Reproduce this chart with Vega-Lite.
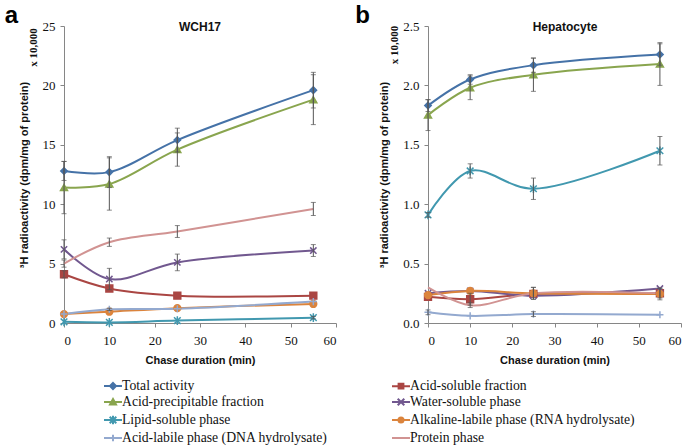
{
  "$schema": "https://vega.github.io/schema/vega-lite/v6.json",
  "background": "white",
  "padding": {"left": 4, "top": 4, "right": 5, "bottom": 5},
  "bounds": "flush",
  "spacing": 92,
  "config": {
    "font": "Liberation Serif",
    "view": {"stroke": null},
    "axis": {
      "grid": false,
      "domainColor": "#868686",
      "tickColor": "#868686",
      "tickSize": 4,
      "labelFont": "Liberation Serif",
      "labelFontSize": 13,
      "labelColor": "#111",
      "titleFont": "Liberation Sans",
      "titleFontWeight": "bold",
      "titleFontSize": 11,
      "titleColor": "#111"
    }
  },
  "datasets": {
    "d": [
      {"p": "a", "s": "Total activity", "t": 0, "v": 12.8, "e": 0.8},
      {"p": "a", "s": "Total activity", "t": 10, "v": 12.7, "e": 1.3},
      {"p": "a", "s": "Total activity", "t": 25, "v": 15.4, "e": 1.0},
      {"p": "a", "s": "Total activity", "t": 55, "v": 19.6, "e": 1.5},
      {"p": "a", "s": "Acid-soluble fraction", "t": 0, "v": 4.1, "e": 0.3},
      {"p": "a", "s": "Acid-soluble fraction", "t": 10, "v": 2.9, "e": 0},
      {"p": "a", "s": "Acid-soluble fraction", "t": 25, "v": 2.3, "e": 0},
      {"p": "a", "s": "Acid-soluble fraction", "t": 55, "v": 2.3, "e": 0},
      {"p": "a", "s": "Acid-precipitable fraction", "t": 0, "v": 11.4, "e": 2.2},
      {"p": "a", "s": "Acid-precipitable fraction", "t": 10, "v": 11.7, "e": 2.2},
      {"p": "a", "s": "Acid-precipitable fraction", "t": 25, "v": 14.6, "e": 1.4},
      {"p": "a", "s": "Acid-precipitable fraction", "t": 55, "v": 18.8, "e": 2.1},
      {"p": "a", "s": "Water-soluble phase", "t": 0, "v": 6.2, "e": 0.8},
      {"p": "a", "s": "Water-soluble phase", "t": 10, "v": 3.7, "e": 0.9},
      {"p": "a", "s": "Water-soluble phase", "t": 25, "v": 5.1, "e": 0.7},
      {"p": "a", "s": "Water-soluble phase", "t": 55, "v": 6.1, "e": 0.5},
      {"p": "a", "s": "Lipid-soluble phase", "t": 0, "v": 0.1, "e": 0},
      {"p": "a", "s": "Lipid-soluble phase", "t": 10, "v": 0.05, "e": 0},
      {"p": "a", "s": "Lipid-soluble phase", "t": 25, "v": 0.2, "e": 0},
      {"p": "a", "s": "Lipid-soluble phase", "t": 55, "v": 0.45, "e": 0.1},
      {"p": "a", "s": "Alkaline-labile phase (RNA hydrolysate)", "t": 0, "v": 0.75, "e": 0},
      {"p": "a", "s": "Alkaline-labile phase (RNA hydrolysate)", "t": 10, "v": 0.95, "e": 0},
      {"p": "a", "s": "Alkaline-labile phase (RNA hydrolysate)", "t": 25, "v": 1.25, "e": 0},
      {"p": "a", "s": "Alkaline-labile phase (RNA hydrolysate)", "t": 55, "v": 1.6, "e": 0},
      {"p": "a", "s": "Acid-labile phase (DNA hydrolysate)", "t": 0, "v": 0.75, "e": 0},
      {"p": "a", "s": "Acid-labile phase (DNA hydrolysate)", "t": 10, "v": 1.15, "e": 0.1},
      {"p": "a", "s": "Acid-labile phase (DNA hydrolysate)", "t": 25, "v": 1.2, "e": 0},
      {"p": "a", "s": "Acid-labile phase (DNA hydrolysate)", "t": 55, "v": 1.8, "e": 0},
      {"p": "a", "s": "Protein phase", "t": 0, "v": 5.0, "e": 0.3},
      {"p": "a", "s": "Protein phase", "t": 10, "v": 6.8, "e": 0.35},
      {"p": "a", "s": "Protein phase", "t": 25, "v": 7.7, "e": 0.5},
      {"p": "a", "s": "Protein phase", "t": 55, "v": 9.6, "e": 0.55},
      {"p": "b", "s": "Total activity", "t": 0, "v": 1.83, "e": 0.05},
      {"p": "b", "s": "Total activity", "t": 10, "v": 2.05, "e": 0.04},
      {"p": "b", "s": "Total activity", "t": 25, "v": 2.17, "e": 0.06},
      {"p": "b", "s": "Total activity", "t": 55, "v": 2.26, "e": 0.09},
      {"p": "b", "s": "Acid-soluble fraction", "t": 0, "v": 0.22, "e": 0},
      {"p": "b", "s": "Acid-soluble fraction", "t": 10, "v": 0.2, "e": 0.05},
      {"p": "b", "s": "Acid-soluble fraction", "t": 25, "v": 0.245, "e": 0},
      {"p": "b", "s": "Acid-soluble fraction", "t": 55, "v": 0.25, "e": 0.04},
      {"p": "b", "s": "Acid-precipitable fraction", "t": 0, "v": 1.75, "e": 0.13},
      {"p": "b", "s": "Acid-precipitable fraction", "t": 10, "v": 1.98, "e": 0.1},
      {"p": "b", "s": "Acid-precipitable fraction", "t": 25, "v": 2.09, "e": 0.14},
      {"p": "b", "s": "Acid-precipitable fraction", "t": 55, "v": 2.18, "e": 0.18},
      {"p": "b", "s": "Water-soluble phase", "t": 0, "v": 0.25, "e": 0},
      {"p": "b", "s": "Water-soluble phase", "t": 10, "v": 0.27, "e": 0},
      {"p": "b", "s": "Water-soluble phase", "t": 25, "v": 0.23, "e": 0},
      {"p": "b", "s": "Water-soluble phase", "t": 55, "v": 0.29, "e": 0},
      {"p": "b", "s": "Lipid-soluble phase", "t": 0, "v": 0.91, "e": 0.02},
      {"p": "b", "s": "Lipid-soluble phase", "t": 10, "v": 1.28, "e": 0.06},
      {"p": "b", "s": "Lipid-soluble phase", "t": 25, "v": 1.13, "e": 0.09},
      {"p": "b", "s": "Lipid-soluble phase", "t": 55, "v": 1.45, "e": 0.12},
      {"p": "b", "s": "Alkaline-labile phase (RNA hydrolysate)", "t": 0, "v": 0.235, "e": 0},
      {"p": "b", "s": "Alkaline-labile phase (RNA hydrolysate)", "t": 10, "v": 0.27, "e": 0},
      {"p": "b", "s": "Alkaline-labile phase (RNA hydrolysate)", "t": 25, "v": 0.25, "e": 0.05},
      {"p": "b", "s": "Alkaline-labile phase (RNA hydrolysate)", "t": 55, "v": 0.245, "e": 0.05},
      {"p": "b", "s": "Acid-labile phase (DNA hydrolysate)", "t": 0, "v": 0.09, "e": 0.02},
      {"p": "b", "s": "Acid-labile phase (DNA hydrolysate)", "t": 10, "v": 0.06, "e": 0},
      {"p": "b", "s": "Acid-labile phase (DNA hydrolysate)", "t": 25, "v": 0.075, "e": 0.02},
      {"p": "b", "s": "Acid-labile phase (DNA hydrolysate)", "t": 55, "v": 0.07, "e": 0},
      {"p": "b", "s": "Protein phase", "t": 0, "v": 0.3, "e": 0},
      {"p": "b", "s": "Protein phase", "t": 10, "v": 0.15, "e": 0.02},
      {"p": "b", "s": "Protein phase", "t": 25, "v": 0.25, "e": 0.05},
      {"p": "b", "s": "Protein phase", "t": 55, "v": 0.25, "e": 0}
    ]
  },
  "hconcat": [
    {
      "width": 272,
      "height": 297,
      "data": {"name": "d"},
      "transform": [{"filter": "datum.p == 'a'"}, {"calculate": "datum.s", "as": "m"}],
      "encoding": {
        "x": {"field": "t", "type": "quantitative", "scale": {"domain": [0, 60], "nice": false},
          "axis": {"title": "Chase duration (min)", "values": [0, 10, 20, 30, 40, 50, 60], "labelPadding": 7, "titlePadding": 7, "labelFont": "Liberation Serif"}}
      },
      "layer": [
        {
          "mark": {"type": "line", "interpolate": "catmull-rom", "strokeWidth": 2},
          "encoding": {
            "y": {"field": "v", "type": "quantitative", "scale": {"domain": [0, 25], "nice": false}, "title": "³H radioactivity (dpm/mg of protein)",
              "axis": {"values": [0, 5, 10, 15, 20, 25], "labelPadding": 5, "titlePadding": 13, "labelFont": "Liberation Serif"}},
            "color": {"field": "s", "type": "nominal",
              "scale": {"domain": ["Total activity", "Acid-soluble fraction", "Acid-precipitable fraction", "Water-soluble phase", "Lipid-soluble phase", "Alkaline-labile phase (RNA hydrolysate)", "Acid-labile phase (DNA hydrolysate)", "Protein phase"],
                "range": ["#4572A7", "#AA4643", "#89A54E", "#71588F", "#4198AF", "#DB843D", "#93A9CF", "#D19392"]},
              "legend": {
                "orient": "none", "legendX": 42, "legendY": 353, "columns": 2, "direction": "horizontal", "title": null,
                "symbolSize": 144, "symbolStrokeWidth": 2, "symbolOpacity": 1,
                "labelFont": "Liberation Serif", "labelFontSize": 13.7, "labelColor": "#111", "labelLimit": 400,
                "rowPadding": 1, "columnPadding": 60, "labelOffset": 2,
                "encode": {"symbols": {"update": {
                  "shape": {"signal": "datum.value == 'Total activity' ? 'M-1.5,0H1.5M0,-0.5L0.5,0L0,0.5L-0.5,0Z' : datum.value == 'Acid-soluble fraction' ? 'M-1.5,0H1.5M-0.4,-0.4H0.4V0.4H-0.4Z' : datum.value == 'Acid-precipitable fraction' ? 'M-1.5,0H1.5M0,-0.5L0.5,0.4H-0.5Z' : datum.value == 'Water-soluble phase' ? 'M-1.5,0H1.5M-0.55,-0.55L0.55,0.55M-0.55,0.55L0.55,-0.55' : datum.value == 'Lipid-soluble phase' ? 'M-1.5,0H1.5M-0.55,-0.55L0.55,0.55M-0.55,0.55L0.55,-0.55M0,-0.7V0.7' : datum.value == 'Alkaline-labile phase (RNA hydrolysate)' ? 'M-1.5,0H1.5M0.42,0A0.42,0.42 0 1,1 -0.42,0A0.42,0.42 0 1,1 0.42,0Z' : datum.value == 'Acid-labile phase (DNA hydrolysate)' ? 'M-1.5,0H1.5M0,-0.55V0.55' : 'M-1.5,0H1.5'"},
                  "fill": {"scale": "color", "field": "value"},
                  "stroke": {"scale": "color", "field": "value"},
                  "size": {"value": 144},
                  "strokeWidth": {"value": 2},
                  "opacity": {"value": 1}
                }}}
              }
            }
          }
        },
        {
          "mark": {"type": "point", "filled": true, "opacity": 1, "strokeWidth": 1.5},
          "encoding": {
            "y": {"field": "v", "type": "quantitative", "scale": {"domain": [0, 25], "nice": false}, "title": "³H radioactivity (dpm/mg of protein)"},
            "color": {"field": "s", "type": "nominal"},
            "stroke": {"field": "m", "type": "nominal", "legend": null,
              "scale": {"range": ["#93A9CF", "#89A54E", "#AA4643", "#DB843D", "#4198AF", "#D19392", "#4572A7", "#71588F"]}},
            "shape": {"field": "m", "type": "nominal", "legend": null,
              "scale": {"range": ["M-1,0H1M0,-1V1", "triangle-up", "square", "circle", "M-1,-1L1,1M-1,1L1,-1M0,-1.3V1.3", "M0,0", "diamond", "M-1,-1L1,1M-1,1L1,-1"]}},
            "size": {"field": "m", "type": "nominal", "legend": null,
              "scale": {"range": [50, 40, 36, 36, 90, 1, 40, 120]}}
          }
        },
        {
          "transform": [{"filter": "datum.e > 0"}],
          "mark": {"type": "errorbar", "ticks": {"size": 5}, "color": "#555", "thickness": 1},
          "encoding": {
            "y": {"field": "v", "type": "quantitative", "scale": {"domain": [0, 25], "nice": false}, "title": "³H radioactivity (dpm/mg of protein)"},
            "yError": {"field": "e"}
          }
        },
        {
          "transform": [{"filter": "datum.t == 0 && datum.s == 'Total activity'"}],
          "mark": {"type": "text", "font": "Liberation Sans", "fontWeight": "bold", "fontSize": 12, "baseline": "middle", "color": "#111"},
          "encoding": {"x": {"datum": 30}, "y": {"datum": 24.9}, "text": {"value": "WCH17"}}
        },
        {
          "transform": [{"filter": "datum.t == 0 && datum.s == 'Total activity'"}],
          "mark": {"type": "text", "font": "Liberation Sans", "fontWeight": "bold", "fontSize": 24, "baseline": "middle", "color": "#000"},
          "encoding": {"x": {"datum": -11.6}, "y": {"datum": 25.8}, "text": {"value": "a"}}
        },
        {
          "transform": [{"filter": "datum.t == 0 && datum.s == 'Total activity'"}],
          "mark": {"type": "text", "font": "Liberation Serif", "fontWeight": "bold", "fontSize": 11, "baseline": "middle", "angle": 270, "color": "#111"},
          "encoding": {"x": {"datum": -6.6}, "y": {"datum": 23.2}, "text": {"value": "x 10,000"}}
        }
      ]
    },
    {
      "width": 253,
      "height": 297,
      "data": {"name": "d"},
      "transform": [{"filter": "datum.p == 'b'"}, {"calculate": "datum.s", "as": "m"}],
      "encoding": {
        "x": {"field": "t", "type": "quantitative", "scale": {"domain": [0, 60], "nice": false},
          "axis": {"title": "Chase duration (min)", "values": [0, 10, 20, 30, 40, 50, 60], "labelPadding": 7, "titlePadding": 7, "labelFont": "Liberation Serif"}}
      },
      "layer": [
        {
          "mark": {"type": "line", "interpolate": "catmull-rom", "strokeWidth": 2},
          "encoding": {
            "y": {"field": "v", "type": "quantitative", "scale": {"domain": [0, 2.5], "nice": false}, "title": "³H radioactivity (dpm/mg of protein)",
              "axis": {"values": [0, 0.5, 1, 1.5, 2, 2.5], "format": ".1f", "labelPadding": 5, "titlePadding": 13, "labelFont": "Liberation Serif"}},
            "color": {"field": "s", "type": "nominal"}
          }
        },
        {
          "mark": {"type": "point", "filled": true, "opacity": 1, "strokeWidth": 1.5},
          "encoding": {
            "y": {"field": "v", "type": "quantitative", "scale": {"domain": [0, 2.5], "nice": false}, "title": "³H radioactivity (dpm/mg of protein)"},
            "color": {"field": "s", "type": "nominal"},
            "stroke": {"field": "m", "type": "nominal", "legend": null},
            "shape": {"field": "m", "type": "nominal", "legend": null},
            "size": {"field": "m", "type": "nominal", "legend": null}
          }
        },
        {
          "transform": [{"filter": "datum.e > 0"}],
          "mark": {"type": "errorbar", "ticks": {"size": 5}, "color": "#555", "thickness": 1},
          "encoding": {
            "y": {"field": "v", "type": "quantitative", "scale": {"domain": [0, 2.5], "nice": false}, "title": "³H radioactivity (dpm/mg of protein)"},
            "yError": {"field": "e"}
          }
        },
        {
          "transform": [{"filter": "datum.t == 0 && datum.s == 'Total activity'"}],
          "mark": {"type": "text", "font": "Liberation Sans", "fontWeight": "bold", "fontSize": 12, "baseline": "middle", "color": "#111"},
          "encoding": {"x": {"datum": 32.5}, "y": {"datum": 2.49}, "text": {"value": "Hepatocyte"}}
        },
        {
          "transform": [{"filter": "datum.t == 0 && datum.s == 'Total activity'"}],
          "mark": {"type": "text", "font": "Liberation Sans", "fontWeight": "bold", "fontSize": 24, "baseline": "middle", "color": "#000"},
          "encoding": {"x": {"datum": -15.5}, "y": {"datum": 2.58}, "text": {"value": "b"}}
        },
        {
          "transform": [{"filter": "datum.t == 0 && datum.s == 'Total activity'"}],
          "mark": {"type": "text", "font": "Liberation Serif", "fontWeight": "bold", "fontSize": 11, "baseline": "middle", "angle": 270, "color": "#111"},
          "encoding": {"x": {"datum": -7.8}, "y": {"datum": 2.34}, "text": {"value": "x 10,000"}}
        }
      ]
    }
  ]
}
